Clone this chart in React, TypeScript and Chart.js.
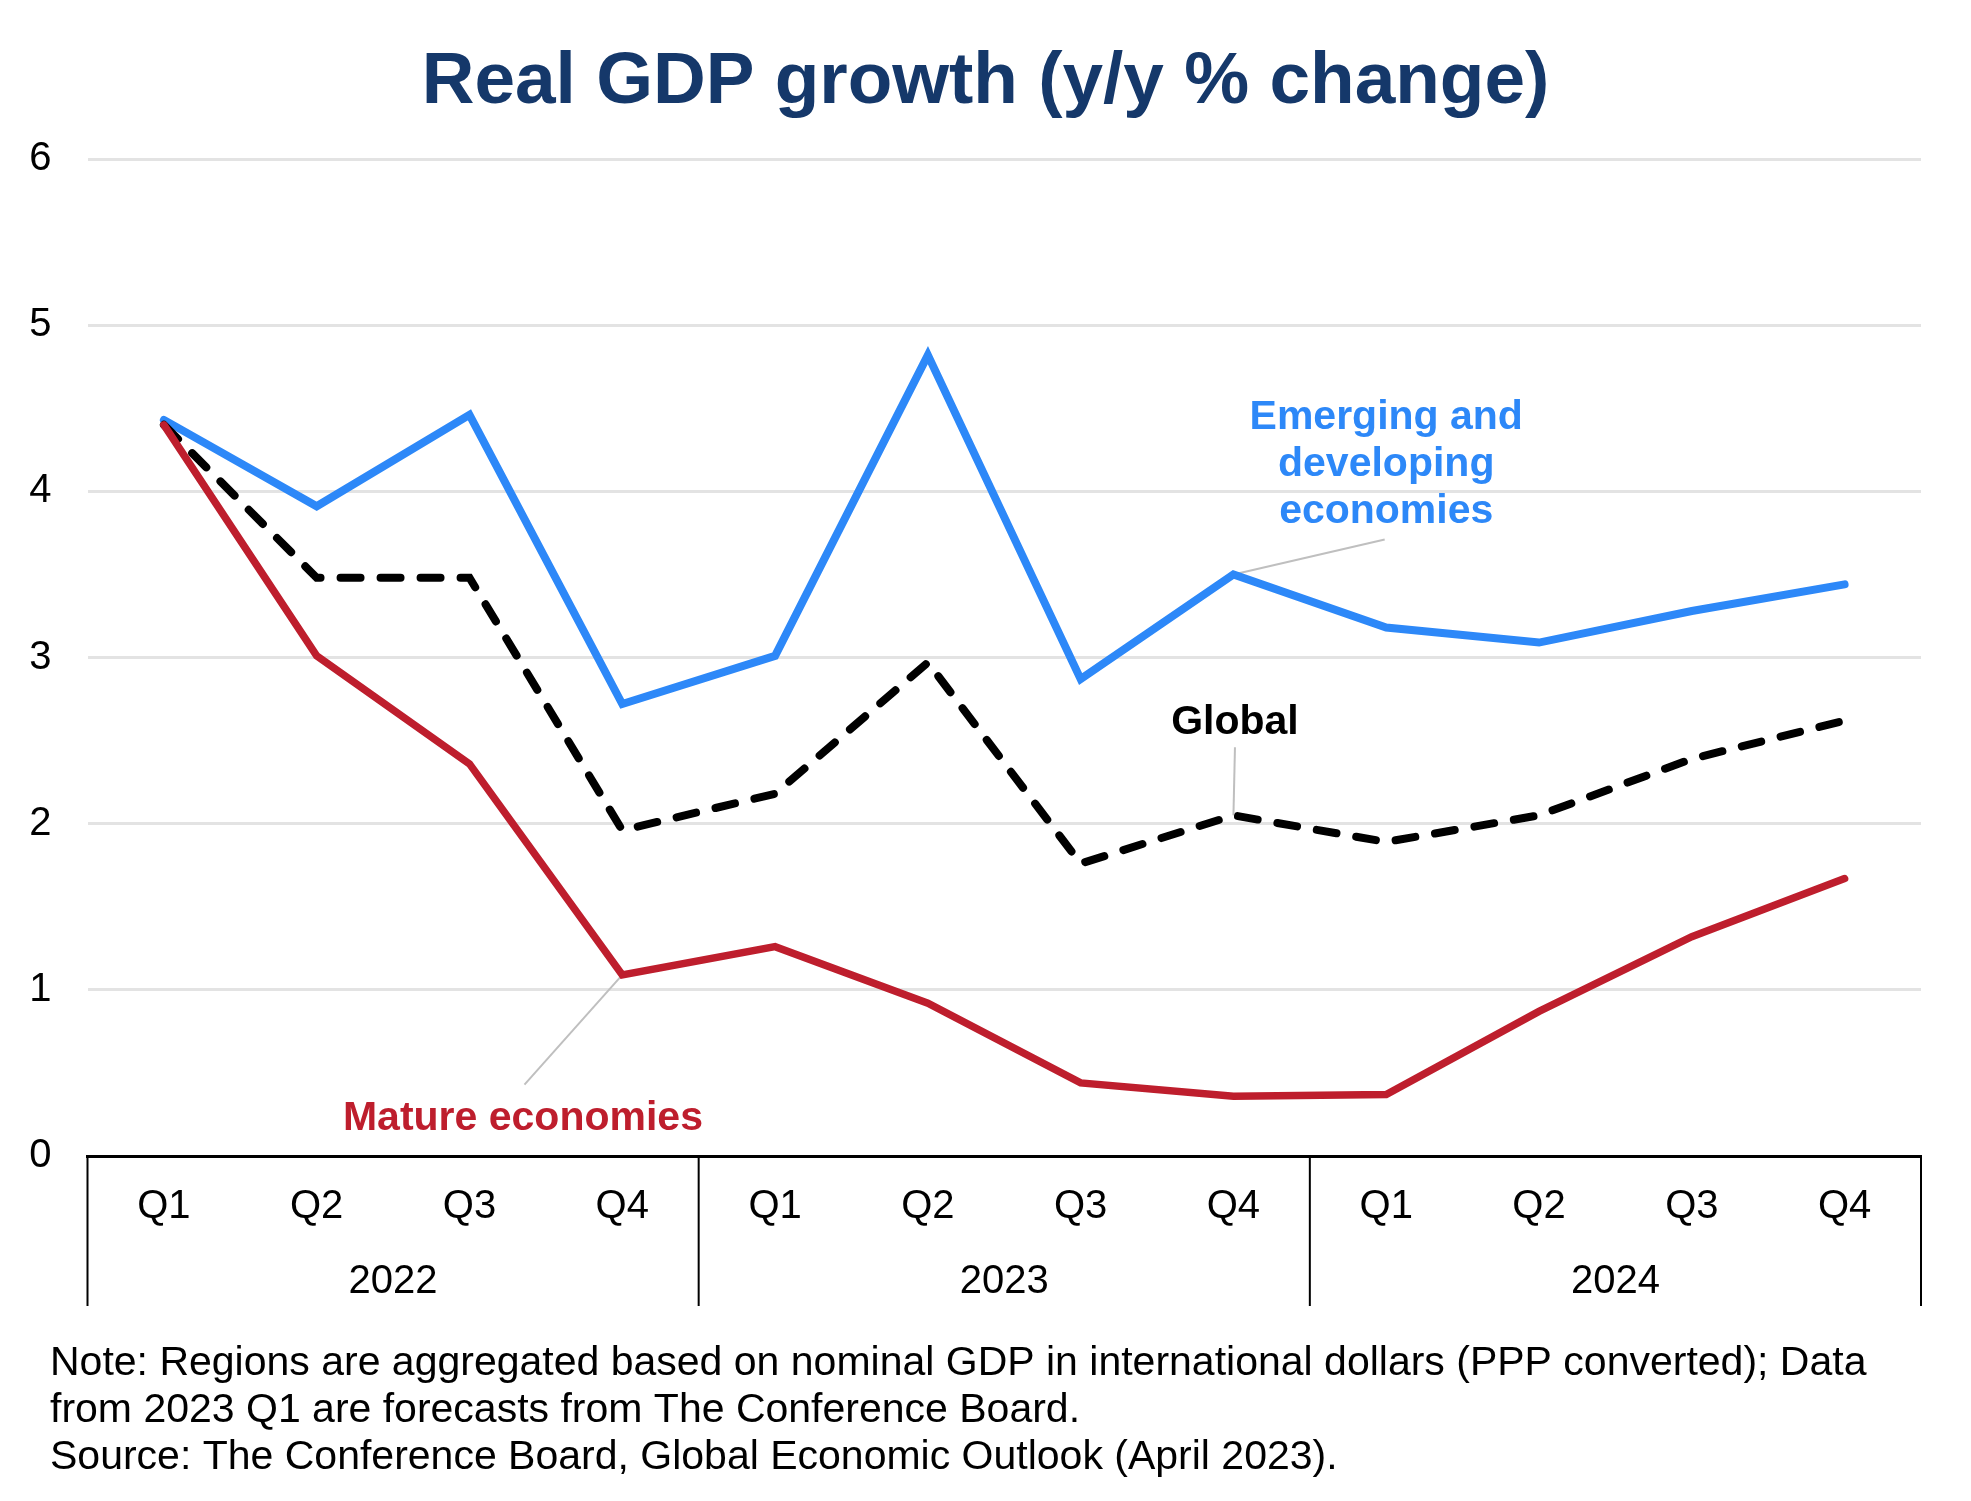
import { useEffect, useRef } from "react";
import { Chart, registerables } from "chart.js";

Chart.register(...registerables);

// Data
const years = ["2022", "2023", "2024"];
const quarters = ["Q1", "Q2", "Q3", "Q4"];
const categories = years.flatMap((y) => quarters.map((q) => `${y} ${q}`));

const emerging = [4.43, 3.91, 4.46, 2.72, 3.01, 4.82, 2.87, 3.5, 3.18, 3.09, 3.28, 3.44];
const globalGrowth = [4.4, 3.48, 3.48, 1.96, 2.18, 2.97, 1.76, 2.05, 1.89, 2.05, 2.39, 2.62];
const mature = [4.4, 3.01, 2.36, 1.09, 1.26, 0.92, 0.44, 0.36, 0.37, 0.87, 1.32, 1.67];

const yMin = 0;
const yMax = 6;
const yStep = 1;

const title = "Real GDP growth (y/y % change)";
const noteLines = [
  "Note: Regions are aggregated based on nominal GDP in international dollars (PPP converted); Data",
  "from 2023 Q1 are forecasts from The Conference Board.",
  "Source: The Conference Board, Global Economic Outlook (April 2023).",
];

const FONT = '"Liberation Sans", Arial, sans-serif';
const BLUE = "#2D88F8";
const RED = "#BE1E2D";
const NAVY = "#15386A";

// label positions in data units (x = category index, y = value)
const annotations = [
  {
    lines: ["Emerging and", "developing", "economies"],
    color: BLUE,
    x: 8,
    y: 4.375,
    lead: { x: 7.99, y: 3.71 },
    dataset: 2,
    index: 7,
  },
  {
    lines: ["Global"],
    color: "#000",
    x: 7.01,
    y: 2.54,
    lead: { x: 7.01, y: 2.46 },
    dataset: 1,
    index: 7,
  },
  {
    lines: ["Mature economies"],
    color: RED,
    x: 2.35,
    y: 0.154,
    lead: { x: 2.36, y: 0.43 },
    dataset: 0,
    index: 3,
  },
];

const overlay = {
  id: "overlay",
  beforeDatasetsDraw(chart: any) {
    const { ctx, scales } = chart;
    ctx.save();
    ctx.strokeStyle = "#BFBFBF";
    ctx.lineWidth = 2;
    annotations.forEach((a) => {
      const pt = chart.getDatasetMeta(a.dataset).data[a.index];
      ctx.beginPath();
      ctx.moveTo(scales.x.getPixelForValue(a.lead.x), scales.y.getPixelForValue(a.lead.y));
      ctx.lineTo(pt.x, pt.y);
      ctx.stroke();
    });
    ctx.restore();
  },
  afterDraw(chart: any) {
    const { ctx, scales, chartArea, width } = chart;
    const x = scales.x;
    ctx.save();

    // title
    ctx.fillStyle = NAVY;
    ctx.font = `bold 73px ${FONT}`;
    ctx.textAlign = "center";
    ctx.textBaseline = "alphabetic";
    ctx.fillText(title, width / 2, 103);

    // quarter and year labels
    ctx.fillStyle = "#000";
    ctx.font = `40px ${FONT}`;
    categories.forEach((_, i) => {
      ctx.fillText(quarters[i % 4], x.getPixelForValue(i), chartArea.bottom + 62);
    });
    years.forEach((y, g) => {
      const cx = (x.getPixelForValue(g * 4) + x.getPixelForValue(g * 4 + 3)) / 2;
      ctx.fillText(y, cx, chartArea.bottom + 137);
    });

    // group separators
    ctx.strokeStyle = "#000";
    ctx.lineWidth = 2;
    for (let g = 0; g <= years.length; g++) {
      const px = x.getPixelForValue(g * 4 - 0.5);
      ctx.beginPath();
      ctx.moveTo(px, chartArea.bottom);
      ctx.lineTo(px, chartArea.bottom + 150);
      ctx.stroke();
    }

    // series labels
    ctx.font = `bold 41px ${FONT}`;
    annotations.forEach((a) => {
      ctx.fillStyle = a.color;
      const px = x.getPixelForValue(a.x);
      const py = scales.y.getPixelForValue(a.y);
      a.lines.forEach((line, i) => ctx.fillText(line, px, py + i * 47));
    });

    // note
    ctx.fillStyle = "#000";
    ctx.font = `41px ${FONT}`;
    ctx.textAlign = "left";
    noteLines.forEach((line, i) => ctx.fillText(line, 50, 1375 + i * 47));

    ctx.restore();
  },
};

export default function App() {
  const canvasRef = useRef<HTMLCanvasElement>(null);
  const chartRef = useRef<Chart | null>(null);

  useEffect(() => {
    document.body.style.margin = "0";
    if (!canvasRef.current) return;
    if (chartRef.current) chartRef.current.destroy();

    chartRef.current = new Chart(canvasRef.current, {
      type: "line",
      data: {
        labels: categories,
        datasets: [
          {
            label: "Mature economies",
            data: mature,
            borderColor: RED,
            borderWidth: 7.5,
          },
          {
            label: "Global",
            data: globalGrowth,
            borderColor: "#000",
            borderWidth: 8,
            borderDash: [20, 20],
          },
          {
            label: "Emerging and developing economies",
            data: emerging,
            borderColor: BLUE,
            borderWidth: 8,
          },
        ],
      },
      options: {
        responsive: false,
        animation: false,
        devicePixelRatio: 1,
        layout: { padding: { top: 159, right: 50, bottom: 195, left: 0 } },
        elements: {
          point: { radius: 0, hoverRadius: 0 },
          line: { tension: 0, borderCapStyle: "round", borderJoinStyle: "miter", fill: false },
        },
        plugins: {
          legend: { display: false },
          tooltip: { enabled: false },
        },
        scales: {
          x: {
            offset: true,
            grid: { display: false, drawTicks: false },
            border: { display: true, color: "#000", width: 3 },
            ticks: { display: false },
            afterFit: (s: any) => {
              s.height = 150;
            },
          },
          y: {
            min: yMin,
            max: yMax,
            ticks: {
              stepSize: yStep,
              color: "#000",
              padding: 36,
              font: { family: FONT, size: 40 },
            },
            grid: { color: "#E3E3E3", lineWidth: 3, drawTicks: false },
            border: { display: false },
            afterFit: (s: any) => {
              s.width = 87.5;
            },
          },
        },
      },
      plugins: [overlay],
    });

    return () => {
      if (chartRef.current) {
        chartRef.current.destroy();
        chartRef.current = null;
      }
    };
  }, []);

  return (
    <div style={{ position: "absolute", left: 0, top: 0, width: 1971, height: 1501, background: "#fff" }}>
      <canvas ref={canvasRef} width={1971} height={1501} style={{ width: 1971, height: 1501 }} />
    </div>
  );
}
